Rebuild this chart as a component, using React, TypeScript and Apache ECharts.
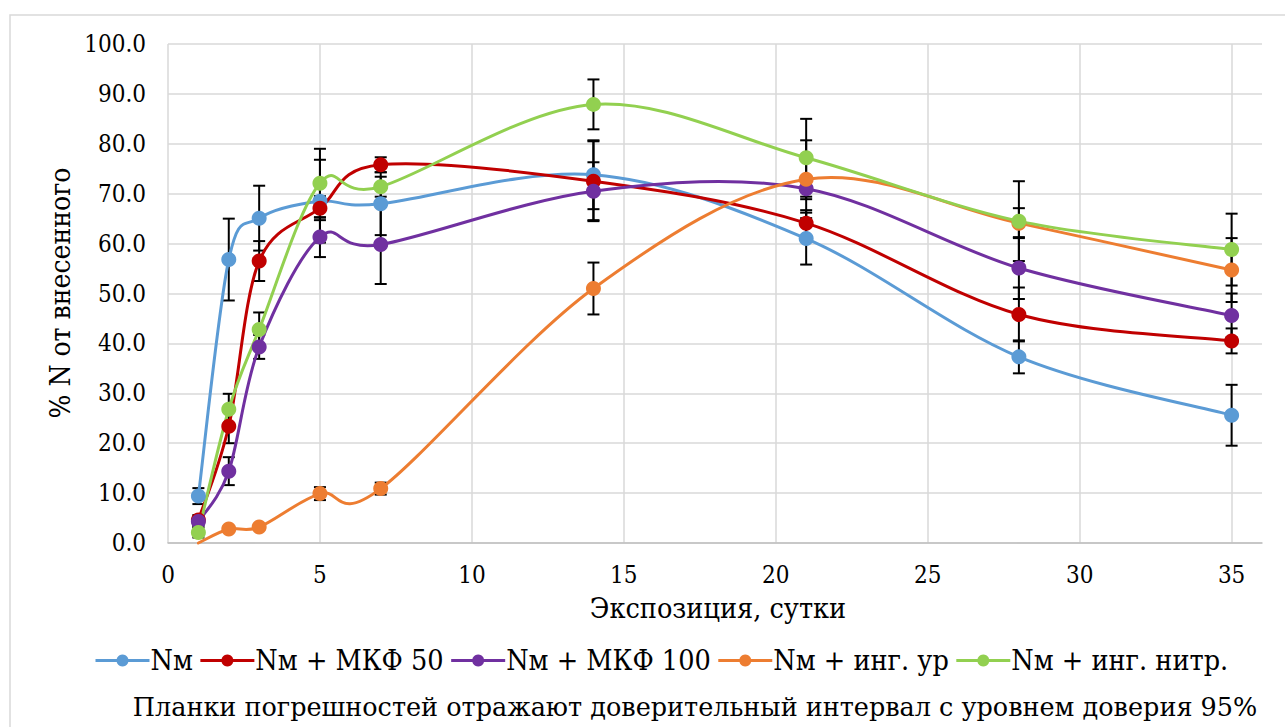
import React, { useEffect, useRef } from "react";
import * as echarts from "echarts";

const days = [1, 2, 3, 5, 7, 14, 21, 28, 35];

const seriesNames = ["Nм", "Nм + МКФ 50", "Nм + МКФ 100", "Nм + инг. ур", "Nм + инг. нитр."];
const seriesColors = ["#5B9BD5", "#C00000", "#7030A0", "#ED7D31", "#92D050"];

const nmValues = [9.4, 56.8, 65.1, 68.5, 68.0, 73.8, 61.0, 37.3, 25.6];
const mkf50Values = [4.6, 23.4, 56.5, 67.1, 75.8, 72.5, 64.1, 45.8, 40.5];
const mkf100Values = [4.3, 14.4, 39.3, 61.3, 59.8, 70.5, 71.0, 55.1, 45.6];
const ingUrValues = [0.0, 2.8, 3.2, 9.9, 10.9, 51.0, 72.9, 64.1, 54.7];
const ingNitrValues = [2.1, 26.8, 42.8, 72.1, 71.4, 87.9, 77.2, 64.5, 58.8];

// half-widths of 95% confidence intervals
const nmErr = [1.6, 8.2, 6.5, 8.3, 6.3, 6.9, 5.2, 3.3, 6.1];
const mkf50Err = [1.0, 3.4, 4.0, 2.4, 1.5, 8.0, 2.6, 5.4, 2.5];
const mkf100Err = [1.0, 2.8, 2.4, 4.0, 7.9, 5.8, 2.1, 6.2, 4.4];
const ingUrErr = [0.0, 0.5, 0.5, 1.3, 1.2, 5.2, 7.8, 3.0, 6.4];
const ingNitrErr = [1.0, 3.1, 3.4, 6.9, 2.0, 5.0, 7.8, 8.0, 7.2];

const yTicks = [0, 10, 20, 30, 40, 50, 60, 70, 80, 90, 100];
const xTicks = [0, 5, 10, 15, 20, 25, 30, 35];

const allValues = [nmValues, mkf50Values, mkf100Values, ingUrValues, ingNitrValues];
const allErrs = [nmErr, mkf50Err, mkf100Err, ingUrErr, ingNitrErr];

const SERIF_C = "DejaVu Serif Condensed";
const SERIF = "DejaVu Serif";

export default function App() {
  const ref = useRef<HTMLDivElement>(null);

  useEffect(() => {
    if (!ref.current) return;
    const chart = echarts.init(ref.current, undefined, { renderer: "svg" });

    const errData: number[][] = [];
    allValues.forEach((vals, si) => {
      vals.forEach((v, i) => {
        const e = allErrs[si][i];
        if (e > 0) errData.push([days[i], v - e, v + e]);
      });
    });

    const seriesList: any[] = [
      {
        name: "err",
        type: "custom",
        z: 2,
        silent: true,
        data: errData,
        encode: { x: 0, y: [1, 2] },
        renderItem: (params: any, api: any) => {
          const x = api.value(0);
          const lo = api.coord([x, api.value(1)]);
          const hi = api.coord([x, api.value(2)]);
          const cap = 6;
          const style = { stroke: "#000", lineWidth: 2 };
          return {
            type: "group",
            children: [
              { type: "line", shape: { x1: lo[0], y1: lo[1], x2: hi[0], y2: hi[1] }, style },
              { type: "line", shape: { x1: lo[0] - cap, y1: lo[1], x2: lo[0] + cap, y2: lo[1] }, style },
              { type: "line", shape: { x1: hi[0] - cap, y1: hi[1], x2: hi[0] + cap, y2: hi[1] }, style },
            ],
          };
        },
      },
    ];

    allValues.forEach((vals, si) => {
      const color = seriesColors[si];
      seriesList.push({
        name: seriesNames[si] + "_curve",
        type: "custom",
        z: 3,
        silent: true,
        data: vals.slice(0, -1).map((v, i) => [days[i], v]),
        encode: { x: 0, y: 1 },
        renderItem: (params: any, api: any) => {
          const i = params.dataIndex;
          const n = vals.length;
          const pt = (k: number) => {
            const kk = Math.max(0, Math.min(n - 1, k));
            return api.coord([days[kk], vals[kk]]);
          };
          const p0 = pt(i - 1);
          const p1 = pt(i);
          const p2 = pt(i + 1);
          const p3 = pt(i + 2);
          const t = 1 / 6;
          return {
            type: "bezierCurve",
            shape: {
              x1: p1[0],
              y1: p1[1],
              cpx1: p1[0] + (p2[0] - p0[0]) * t,
              cpy1: p1[1] + (p2[1] - p0[1]) * t,
              cpx2: p2[0] - (p3[0] - p1[0]) * t,
              cpy2: p2[1] - (p3[1] - p1[1]) * t,
              x2: p2[0],
              y2: p2[1],
            },
            style: { stroke: color, lineWidth: 3, fill: "none", lineCap: "round" },
          };
        },
      });
      seriesList.push({
        name: seriesNames[si],
        type: "line",
        symbol: "circle",
        symbolSize: 15,
        z: 3,
        lineStyle: { color, width: 3, opacity: 0 },
        itemStyle: { color },
        data: vals.map((v, i) => {
          if (si === 3 && i === 0) return { value: [days[i], v], symbolSize: 0 };
          return [days[i], v];
        }),
      });
    });

    const txt = (text: string, x: number, y: number, fam: string, size: number, extra: any = {}) => ({
      type: "text",
      x,
      y,
      ...extra,
      style: {
        text,
        fill: "#000",
        fontFamily: fam,
        fontSize: size,
        align: "center",
        verticalAlign: "middle",
      },
    });

    const option: any = {
      animation: false,
      grid: { left: 168, top: 44, right: 23, bottom: 184, containLabel: false },
      xAxis: {
        type: "value",
        min: 0,
        max: 36,
        interval: 5,
        axisLine: { show: true, lineStyle: { color: "#bfbfbf", width: 1.5 } },
        axisTick: { show: false },
        axisLabel: {
          color: "#000",
          fontFamily: SERIF_C,
          fontSize: 24,
          margin: 20,
          showMaxLabel: false,
          formatter: (v: number) => (xTicks.indexOf(v) >= 0 ? String(v) : ""),
        },
        splitLine: { show: true, showMaxLine: false, lineStyle: { color: "#d9d9d9", width: 1.5 } },
      },
      yAxis: {
        type: "value",
        min: 0,
        max: 100,
        interval: 10,
        axisLine: { show: false },
        axisTick: { show: false },
        axisLabel: {
          color: "#000",
          fontFamily: SERIF_C,
          fontSize: 24,
          margin: 22,
          formatter: (v: number) => (yTicks.indexOf(v) >= 0 ? v.toFixed(1) : ""),
        },
        splitLine: { show: true, lineStyle: { color: "#d9d9d9", width: 1.5 } },
      },
      legend: {
        data: seriesNames,
        top: 641,
        left: 89,
        itemWidth: 54,
        itemHeight: 15,
        itemGap: 6,
        lineStyle: { width: 3, opacity: 1 },
        textStyle: { color: "#000", fontFamily: SERIF_C, fontSize: 28.5, padding: [0, 0, 0, -4] },
      },
      graphic: [
        {
          type: "rect",
          silent: true,
          shape: { x: 10, y: 15, width: 1400, height: 800 },
          style: { fill: "none", stroke: "#d9d9d9", lineWidth: 1.5 },
        },
        txt("Экспозиция, сутки", 718, 608, SERIF_C, 28.5),
        txt("% N от внесенного", 60, 293, SERIF_C, 28, { rotation: Math.PI / 2 }),
        txt("Планки погрешностей отражают доверительный интервал с уровнем доверия 95%", 695, 707, SERIF, 25.5),
      ],
      series: seriesList,
    };

    chart.setOption(option);
    return () => chart.dispose();
  }, []);

  return (
    <div
      ref={ref}
      style={{ position: "fixed", left: 0, top: 0, width: 1285, height: 727, background: "#fff" }}
    />
  );
}
